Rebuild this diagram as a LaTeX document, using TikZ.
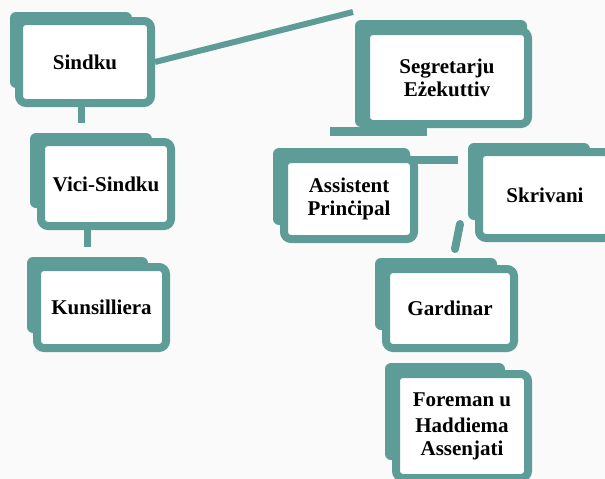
\documentclass[tikz,border=0pt]{standalone}
\usepackage{fontspec}
\setmainfont{Liberation Serif}
\definecolor{tealbox}{RGB}{94,156,151}
\definecolor{bgc}{RGB}{250,250,250}
\tikzset{
  frontbox/.style={draw=tealbox, line width=8pt, fill=white, rounded corners=7pt,
    align=center, inner sep=0pt, font=\bfseries\fontsize{21}{23}\selectfont},
  backbox/.style={fill=tealbox, rounded corners=6pt},
  conn/.style={draw=tealbox, line width=8pt},
}
\begin{document}
\begin{tikzpicture}[x=1pt,y=-1pt]
\useasboundingbox (0,0) rectangle (605,479);
\clip (0,0) rectangle (605,479);
\fill[bgc] (0,0) rectangle (605,479);

% back shapes
\fill[backbox] (10,12) rectangle (132,88);
\fill[backbox] (30,133) rectangle (152,208);
\fill[backbox] (27,257) rectangle (148,333);
\fill[backbox] (355,20) rectangle (527,127);
\fill[backbox] (273,148) rectangle (410,225);
\fill[backbox] (468,143) rectangle (590,220);
\fill[backbox] (375,258) rectangle (497,330);
\fill[backbox] (385,363) rectangle (505,460);

% free connector ends
\coordinate (top) at (353,12);
\coordinate (s1) at (81,123);
\coordinate (v1) at (87,247);
\coordinate (b1) at (330,131);
\coordinate (b2) at (427,131);
\coordinate (c1) at (395,160);
\coordinate (c2) at (458,160);
\coordinate (g1) at (460,224);
\coordinate (g2) at (455,249);

% connector bars (behind boxes)
\draw[conn, line width=9pt] (b1) -- (b2);
\draw[conn, line width=8pt] (c1) -- (c2);
\draw[conn, line width=8pt, line cap=round] (g1) -- (g2);

% front boxes
\node[frontbox, minimum width=132pt, minimum height=82pt] (sindku) at (85,62) {Sindku};
\node[frontbox, minimum width=130pt, minimum height=84pt] (vici) at (106,184) {Vici-Sindku};
\node[frontbox, minimum width=129pt, minimum height=81pt] (kuns) at (101.5,307.5) {Kunsilliera};
\node[frontbox, minimum width=162pt, minimum height=93pt] (segr) at (447,77.5) {Segretarju\\Eżekuttiv};
\node[frontbox, minimum width=130pt, minimum height=80pt] (assist) at (349,199) {Assistent\\Prinċipal};
\node[frontbox, minimum width=132pt, minimum height=86pt] (skriv) at (545,195) {Skrivani};
\node[frontbox, minimum width=128pt, minimum height=79pt] (gard) at (450,308.5) {Gardinar};
\node[frontbox, minimum width=132pt, minimum height=104pt] (fore) at (462,426) {Foreman u\\[3pt]Haddiema\\Assenjati};

% connectors
\draw[conn, line width=6pt] (sindku.east) -- (top);
\draw[conn, line width=7pt] (sindku.south -| s1) -- (s1);
\draw[conn, line width=7pt] (vici.south -| v1) -- (v1);
\end{tikzpicture}
\end{document}
